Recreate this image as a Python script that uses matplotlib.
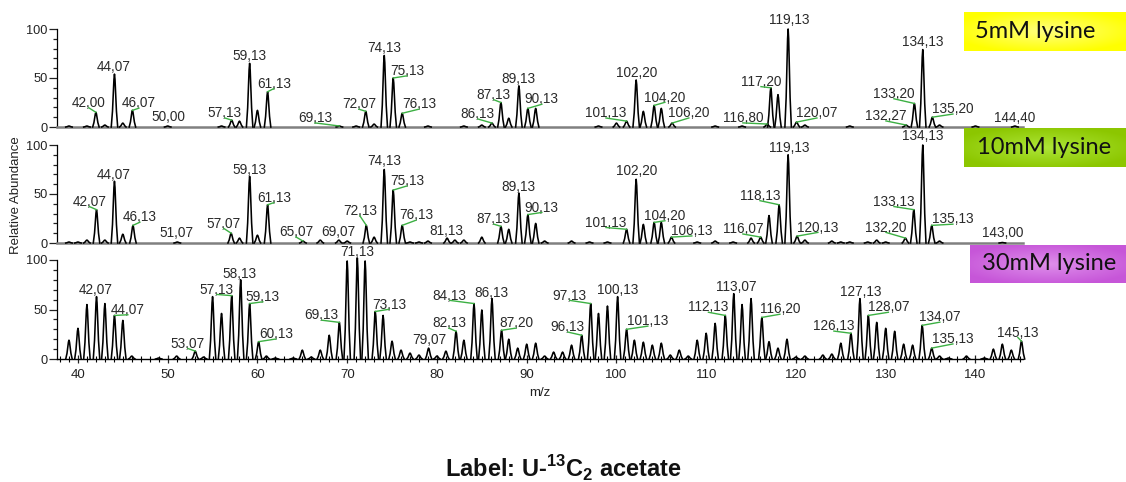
import numpy as np
import matplotlib
matplotlib.use("Agg")
import matplotlib.pyplot as plt
from matplotlib.ticker import MultipleLocator

plt.rcParams['font.family'] = ['Liberation Sans', 'DejaVu Sans']
plt.rcParams['mathtext.fontset'] = 'custom'
plt.rcParams['mathtext.rm'] = 'Liberation Sans'
plt.rcParams['mathtext.bf'] = 'Liberation Sans:bold'

# ---- spectra: peak m/z and relative abundance (%) ----
mz_5mM = [39.0, 41.0, 42.00, 43.0, 44.07, 45.0, 46.07, 50.00, 56.0, 57.13,
          58.0, 59.13, 60.0, 61.13, 69.13, 71.0, 72.07, 73.0, 74.13, 75.13,
          76.13, 79.0, 83.0, 85.0, 86.13, 87.13, 88.0, 89.13, 90.13, 91.0,
          98.0, 100.0, 101.13, 102.20, 103.0, 104.20, 105.0, 106.20, 111.0, 114.0,
          116.80, 117.20, 118.0, 119.13, 120.07, 121.0, 126.0, 132.27, 133.20, 134.13,
          135.20, 136.0, 140.0, 144.40]
ab_5mM = [1, 1, 15, 2, 54, 4, 17, 1, 1, 7,
          6, 65, 17, 36, 1, 1, 16, 3, 73, 50,
          14, 1, 1, 2, 4, 25, 9, 42, 19, 19,
          1, 4, 6, 48, 16, 22, 19, 4, 1, 1,
          3, 40, 33, 100, 5, 2, 1, 2, 24, 79,
          10, 2, 1, 1]
labels_5mM = [42.00, 44.07, 46.07, 50.00, 57.13, 59.13, 61.13, 69.13, 72.07, 74.13,
              75.13, 76.13, 86.13, 87.13, 89.13, 90.13, 101.13, 102.20, 104.20, 106.20,
              116.80, 117.20, 119.13, 120.07, 132.27, 133.20, 134.13, 135.20, 144.40]

mz_10mM = [39.0, 40.0, 41.0, 42.07, 43.0, 44.07, 45.0, 46.13, 51.07, 57.07,
           58.0, 59.13, 60.0, 61.13, 65.07, 67.0, 69.07, 70.0, 72.13, 73.0,
           74.13, 75.13, 76.13, 77.0, 78.0, 79.0, 81.13, 82.0, 83.0, 85.0,
           87.13, 88.0, 89.13, 90.13, 91.0, 92.0, 95.0, 97.0, 99.0, 101.13,
           102.20, 103.0, 104.20, 105.0, 106.13, 109.0, 111.0, 113.0, 115.0, 116.07,
           117.0, 118.13, 119.13, 120.13, 121.0, 124.0, 125.0, 126.0, 128.0, 129.0,
           130.0, 132.20, 133.13, 134.13, 135.13, 136.0, 143.00]
ab_10mM = [1, 1, 3, 34, 3, 63, 9, 18, 1, 10,
           5, 68, 8, 39, 2, 3, 3, 2, 18, 6,
           75, 54, 18, 1, 1, 2, 5, 3, 3, 6,
           17, 14, 51, 29, 20, 2, 2, 1, 1, 14,
           65, 19, 21, 21, 6, 1, 2, 1, 5, 6,
           28, 39, 90, 7, 3, 2, 1, 1, 1, 3,
           1, 5, 34, 100, 18, 2, 0.5]
labels_10mM = [42.07, 44.07, 46.13, 51.07, 57.07, 59.13, 61.13, 65.07, 69.07, 72.13,
               74.13, 75.13, 76.13, 81.13, 87.13, 89.13, 90.13, 101.13, 102.20, 104.20,
               106.13, 116.07, 118.13, 119.13, 120.13, 132.20, 133.13, 134.13, 135.13, 143.00]

mz_30mM = [39.0, 40.0, 41.0, 42.07, 43.0, 44.07, 45.0, 46.0, 49.0, 51.0,
           53.07, 54.0, 55.0, 56.0, 57.13, 58.13, 59.13, 60.13, 61.0, 62.0,
           64.0, 65.0, 66.0, 67.0, 68.0, 69.13, 70.0, 71.13, 72.0, 73.13,
           74.0, 75.0, 76.0, 77.0, 78.0, 79.07, 80.0, 81.0, 82.13, 83.0,
           84.13, 85.0, 86.13, 87.20, 88.0, 89.0, 90.0, 91.0, 92.0, 93.0,
           94.0, 95.0, 96.13, 97.13, 98.0, 99.0, 100.13, 101.13, 102.0, 103.0,
           104.0, 105.0, 106.0, 107.0, 108.0, 109.0, 110.0, 111.0, 112.13, 113.07,
           114.0, 115.0, 116.20, 117.0, 118.0, 119.0, 120.0, 121.0, 123.0, 124.0,
           125.0, 126.13, 127.13, 128.07, 129.0, 130.0, 131.0, 132.0, 133.0, 134.07,
           135.13, 136.0, 137.0, 139.0, 141.0, 142.0, 143.0, 144.0, 145.13]
ab_30mM = [19, 31, 55, 63, 56, 44, 39, 3, 1, 3,
           8, 2, 63, 46, 64, 80, 56, 17.5, 3, 1,
           1, 9, 2, 9, 24, 37, 99, 102, 99, 48,
           44, 18, 9, 6, 4, 11, 3, 8, 28, 19,
           56, 49.5, 61, 29, 20, 11, 15, 16, 3, 7,
           7, 14, 24, 56, 46, 53.5, 63, 30, 19, 17,
           14, 16, 4, 9, 3, 19, 26, 36, 44, 66,
           55, 61, 42, 17.5, 11, 20, 2, 3, 4, 5,
           16, 26, 61, 44, 37, 31, 28, 15, 14, 34,
           11, 3, 1, 3, 1, 10, 15, 9, 18]
labels_30mM = [42.07, 44.07, 53.07, 57.13, 58.13, 59.13, 60.13, 69.13, 71.13, 73.13,
               79.07, 82.13, 84.13, 86.13, 87.20, 96.13, 97.13, 100.13, 101.13, 112.13,
               113.07, 116.20, 126.13, 127.13, 128.07, 134.07, 135.13, 145.13]

# ---- label placement (layout): text anchor (m/z, baseline height) ----
pos_5mM = [(41.21, 20.4), (44.0, 57), (46.79, 20), (50.02, 6), (56.37, 10), (59.16, 68),
           (61.83, 40), (66.4, 5), (71.3, 19), (74.14, 77), (76.65, 53), (77.99, 19),
           (84.56, 9), (86.34, 28.6), (89.12, 45), (91.69, 24), (98.83, 10), (102.28, 51),
           (105.4, 26), (108.07, 10), (114.09, 5), (116.1, 42), (119.22, 105), (122.34, 10),
           (130.03, 7), (130.92, 29.6), (134.15, 83), (137.49, 14), (144.4, 5)]
pos_10mM = [(41.27, 38), (44.0, 65), (46.9, 22), (51.02, 6), (56.26, 15.6), (59.16, 70),
            (61.83, 42), (64.28, 7), (68.96, 7), (71.41, 28.6), (74.14, 80), (76.65, 59),
            (77.65, 24), (81.1, 8), (86.34, 20), (89.12, 53), (91.69, 32), (98.83, 16.6),
            (102.28, 69), (105.4, 23.5), (108.4, 8), (114.09, 10), (115.99, 44), (119.22, 93),
            (122.45, 11.6), (130.03, 11.6), (130.92, 38), (134.15, 105), (137.49, 20), (143.06, 6)]
pos_30mM = [(42.0, 65.5), (45.56, 45.5), (52.25, 11.4), (55.48, 66), (58.04, 82), (60.6, 58.6),
            (62.05, 21), (67.17, 40), (71.08, 104), (74.64, 51), (79.1, 15), (81.33, 32),
            (81.44, 60), (86.12, 63), (88.8, 32), (94.59, 28), (94.81, 60), (100.16, 66),
            (103.5, 34), (110.25, 48), (113.35, 69), (118.21, 46), (124.23, 29), (127.24, 64),
            (130.3, 48), (136.04, 38), (137.49, 16), (144.73, 22.5)]

W, H = 1126, 482
fig = plt.figure(figsize=(W / 100, H / 100), dpi=100)
fig.patch.set_facecolor('white')

# peak profile shape (relative)
prof_dx = np.array([-0.36, -0.22, -0.06, 0, 0.06, 0.22, 0.36])
prof_f = np.array([0, 0.3, 0.9, 1, 0.9, 0.3, 0])

panels = [
    (mz_5mM, ab_5mM, labels_5mM, pos_5mM, 127, 29),
    (mz_10mM, ab_10mM, labels_10mM, pos_10mM, 243, 145),
    (mz_30mM, ab_30mM, labels_30mM, pos_30mM, 359, 260),
]

left_px, right_px = 57.3, 1023
for i, (mz, ab, labs, pos, y0, y100) in enumerate(panels):
    ax = fig.add_axes([left_px / W, 1 - y0 / H, (right_px - left_px) / W, (y0 - y100) / H])
    ax.set_xlim(37.7, 145.3)
    ax.set_ylim(0, 100)
    ax.patch.set_alpha(0)
    for s in ['top', 'right']:
        ax.spines[s].set_visible(False)
    ax.spines['left'].set_bounds(0, 100)
    ax.spines['left'].set_linewidth(0.9)
    ax.yaxis.set_major_locator(MultipleLocator(50))
    ax.yaxis.set_minor_locator(MultipleLocator(10))
    ax.tick_params(axis='y', which='major', length=6, width=0.9, labelsize=9.2,
                   pad=0.8, colors='#222222')
    ax.tick_params(axis='y', which='minor', length=3, width=0.9, colors='#222222')

    if i < 2:
        ax.spines['bottom'].set_color('#808080')
        ax.spines['bottom'].set_linewidth(1.8)
        ax.set_xticks([])
    else:
        ax.spines['bottom'].set_color('black')
        ax.spines['bottom'].set_linewidth(1.0)
        ax.xaxis.set_major_locator(MultipleLocator(10))
        ax.xaxis.set_minor_locator(MultipleLocator(1))
        ax.tick_params(axis='x', which='major', direction='inout', length=6, width=0.9,
                       labelsize=9.5, pad=4, colors='#222222')
        ax.tick_params(axis='x', which='minor', direction='inout', length=4, width=0.8)

    for m, a in zip(mz, ab):
        ax.plot(m + prof_dx, a * prof_f, color='black', lw=1.15, clip_on=False,
                solid_joinstyle='round', zorder=3)

    height = dict(zip(mz, ab))
    for v, (lx, ly) in zip(labs, pos):
        txt = f"{v:.2f}".replace('.', ',')
        ax.text(lx, ly, txt, ha='center', va='baseline', fontsize=9.8,
                color='#2a2a2a', clip_on=False, zorder=4)
        if abs(lx - v) > 0.35:
            ax.plot([lx, v], [ly - 0.8, height[v]], color='#3cb043', lw=1.0,
                    clip_on=False, zorder=4)

fig.text(16.5 / W, 1 - 195 / H, 'Relative Abundance', rotation=90, ha='center',
         va='center', fontsize=9.5, color='#222222')
fig.text(540 / W, 1 - 393 / H, 'm/z', ha='center', va='center', fontsize=9.5,
         color='#222222')


def gradient_box(x0, y0, x1, y1, edge, centre, text, tx):
    bax = fig.add_axes([x0 / W, 1 - y1 / H, (x1 - x0) / W, (y1 - y0) / H])
    yy, xx = np.mgrid[-1:1:40j, -1:1:160j]
    t = np.clip(np.sqrt((xx * 0.85) ** 2 + (yy * 0.9) ** 2), 0, 1)[..., None]
    img = np.array(centre)[None, None, :] * (1 - t) + np.array(edge)[None, None, :] * t
    bax.imshow(img, aspect='auto', extent=[0, 1, 0, 1])
    bax.set_axis_off()
    bax.text((tx - x0) / (x1 - x0), 0.5, text, ha='left', va='center', fontsize=17,
             family=['Lato', 'DejaVu Sans'], color='#111111', transform=bax.transAxes)


gradient_box(964, 12, 1126, 51, (1.0, 1.0, 0.0), (1.0, 1.0, 0.5), '5mM lysine', 975)
gradient_box(964, 128, 1126, 167, (0.55, 0.78, 0.0), (0.68, 0.9, 0.22), '10mM lysine', 977)
gradient_box(970, 245, 1126, 283, (0.78, 0.34, 0.85), (0.87, 0.56, 0.92), '30mM lysine', 982)

fig.text(563 / W, 1 - 469 / H, r'Label: U-$^{\mathbf{13}}\mathbf{C}_{\mathbf{2}}$ acetate',
         ha='center', va='center', fontsize=17, fontweight='bold', color='#111111')

fig.savefig('out.png', dpi=100, facecolor='white')
